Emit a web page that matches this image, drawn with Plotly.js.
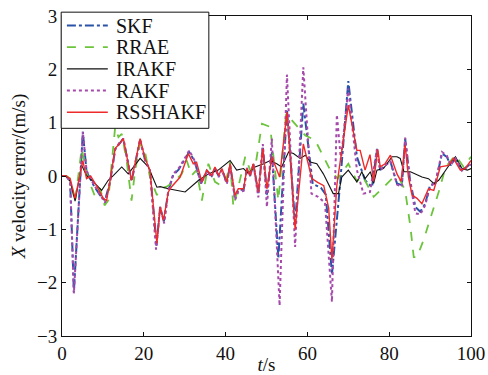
<!DOCTYPE html>
<html>
<head>
<meta charset="utf-8">
<script src="https://cdn.plot.ly/plotly-3.0.1.min.js"></script>
<style>html,body{margin:0;padding:0;background:#fff;}#chart{width:488px;height:375px;}</style>
</head>
<body>
<div id="chart"></div>
<script>
// SKF
const tSKF = [0,1,2,2.9,5.1,6,7.7,9.3,10.5,11.7,13,14,15,17,19.1,20.3,21.5,23.1,24,24.9,26,27.2,28.5,29.7,31.1,32.4,34,35.4,36.6,37.4,38.3,39.1,40.3,41.1,42.3,43.1,44.4,45.2,46,46.8,48,49.1,50.1,51.3,52.9,55,57,59,61.3,63.3,64.5,66,68,70,72.1,74.1,75.8,77,77.8,79,80.3,81.9,83.1,83.9,85.1,86.4,87.6,88.8,90,91.3,92.9,94.1,95,96.2,97.8,100];
const vSKF = [0,0,-0.1,-2.18,0.83,0.08,-0.17,-0.36,-0.46,-0.13,0.5,0.6,0.7,-0.1,0.68,0.3,0.1,-1.3,-0.58,-0.85,-0.28,0.02,0.12,0.27,0.45,0.28,-0.14,0.1,0,0.15,0,0.12,-0.13,0.2,-0.4,-0.26,-0.26,0.12,0,0.22,-0.32,0.55,-0.35,0.45,-1.55,1.25,-0.9,1.36,-0.15,-0.22,-0.35,-1.85,-0.14,1.78,0.36,-0.08,-0.21,0.51,0.11,0.2,0.27,-0.14,-0.17,0.7,-0.08,-0.58,-0.67,-0.52,-0.17,-0.14,0.42,0.36,0.2,0.33,0.11,0.23];
// RRAE
const tRRAE = [0,1,2,3.2,4.8,6.4,8.1,9.3,10.4,11.3,13,13.8,14.6,15.8,17,17.9,19.1,20.3,21.5,23.2,24,25.6,27.3,29.3,30.5,31.7,32.9,34.2,35.8,37.4,38.7,39.9,41.1,41.9,43.1,44.8,46,47.2,48.9,50.9,52.9,54.8,56.6,59.5,61.9,64.3,65.6,66.4,67.4,70,72.1,73.5,76.2,78.2,80.7,81.5,82.7,83.9,85.2,86,86.8,88.4,90.5,92.1,93.8,96.2,98.2,100];
const vRRAE = [0,0,-0.05,-0.49,0.51,-0.05,-0.39,-0.23,-0.55,-0.46,0.92,0.73,0.79,0.29,-0.46,0.11,0.61,0.45,-0.02,-0.36,-0.24,-0.2,-0.11,0.04,0.29,0.01,0.11,-0.46,0.23,-0.11,-0.17,-0.17,0.26,-0.58,-0.21,0.36,0.11,0.15,0.98,0.92,-0.46,1.17,1.01,0.76,0.67,0.29,0.11,0.04,-0.05,0.23,-0.1,0,-0.39,-0.24,-0.05,-0.02,-0.08,-0.27,-0.96,-1.52,-1.52,-1.2,-0.7,-0.3,0.17,0.39,0.17,0.36];
// IRAKF
const tIRAKF = [0,1,2,3.2,4.8,6,7.7,9.7,11.3,12.6,14.6,16.2,19.1,21.1,23.2,24,26,30.1,33.4,35.8,38.2,41.1,42.7,44.4,45.5,47.2,49.3,50.9,52.5,53.7,55.4,56.6,58.2,59.5,60.7,62.3,63.9,65.6,66.3,67.6,68.4,70,72.1,73.3,74.1,75.4,76.2,77,78.6,80.7,81.9,82.7,83.6,85.2,86.4,88,89.6,90.9,92.1,93.7,94.9,96.2,97.8,99.1,100];
const vIRAKF = [0,0,-0.1,-0.47,0.2,0.01,-0.11,-0.27,-0.08,0.01,0.17,0.04,0.33,0.17,-0.21,-0.2,-0.24,-0.3,-0.08,0.04,0.11,0.29,0.11,0.14,0.05,0.17,0.23,0.29,0.23,0.17,0.45,0.42,0.33,0.39,0.26,0.23,0.04,-0.24,-0.33,-0.33,-0.02,0.11,-0.11,0.08,-0.05,0.08,-0.14,0.11,0.14,0.36,0.36,0.33,0.08,0.08,0.04,-0.02,-0.05,-0.14,-0.08,0.11,0.23,0.36,0.14,0.11,0.14];
// RAKF
const tRAKF = [0,1,2,2.9,5.1,6,7.7,9.3,10.5,11.7,13,14,15,17,19.1,20.3,21.5,23,24,25,26,27.2,28.5,29.7,31.1,32.4,34,35.4,36.6,37.4,38.3,39.1,40.3,41.1,42.3,43.1,44.4,45.2,46,46.8,48,49.1,50.1,51.3,53.2,55,57,59,61,62.6,64.3,66,67.2,68.2,70,72.1,73.7,75.3,77,77.8,79,80.3,81.9,83.1,83.9,85.1,86.4,87.6,88.8,90,91.3,92.9,94.1,95,96.2,97.8,100];
const vRAKF = [0,0,-0.1,-2.2,0.83,0.1,-0.15,-0.36,-0.5,-0.13,0.5,0.62,0.7,-0.1,0.68,0.3,0.1,-1.38,-0.58,-0.89,-0.27,0.04,0.14,0.29,0.48,0.29,-0.14,0.08,-0.02,0.15,-0.02,0.12,-0.15,0.2,-0.45,-0.3,-0.28,0.15,0,0.22,-0.4,0.6,-0.58,0.7,-2.43,1.9,-1.33,2.04,-0.33,-0.39,-0.5,-2.36,1.15,0.3,1.64,0.11,-0.33,-0.3,0.5,0.11,0.2,0.27,-0.16,-0.2,0.72,-0.1,-0.7,-0.72,-0.55,-0.2,-0.12,0.45,0.38,0.2,0.33,0.1,0.22];
// RSSHAKF
const tRSS = [0,1,2,3.2,5.1,6,7,8.5,10.1,10.9,11.7,13,13.8,15,17,19.1,20.3,21.5,23.2,24,24.8,26,26.8,28.9,30.9,32.1,32.9,34.2,35.4,36.6,37.4,38.3,39.1,40.3,41.1,42.3,43.1,44.4,45.2,46,46.8,48,49.1,50.1,51.3,53.2,55,57,59,61.1,62.5,64,65.2,66,67.2,70,72.1,72.9,74.1,75.3,76.2,77.2,77.8,79,80.3,81.9,82.9,83.9,84.7,85.6,86.8,88,89.6,90.9,92.5,94.5,95.7,97.4,98.6,100];
const vRSS = [0,0,-0.05,-0.42,0.29,-0.05,0,-0.19,-0.42,-0.46,-0.11,0.52,0.58,0.7,-0.08,0.7,0.33,0.11,-1.26,-0.58,-0.83,-0.3,-0.2,-0.02,0.42,0.23,0.26,-0.11,0.11,0.01,0.17,0.01,0.14,-0.11,0.23,-0.36,-0.24,-0.24,0.14,0.01,0.23,-0.3,0.51,-0.24,0.36,-0.02,1.2,-1.0,0.6,-0.05,-0.12,-0.18,-0.6,-1.58,-0.17,1.33,0.48,0.48,0.11,0.4,-0.1,0.5,0.17,0.23,0.39,0.04,-0.1,0.58,-0.02,-0.36,-0.42,-0.52,-0.24,-0.27,0.17,0.2,0.33,0.11,0.14,0.29];

const seriesNames = ['SKF','RRAE','IRAKF','RAKF','RSSHAKF'];
const xTicks = [0,20,40,60,80,100];
const yTicks = [-3,-2,-1,0,1,2,3];
const yTickText = ['\u22123','\u22122','\u22121','0','1','2','3'];

const serif = 'Liberation Serif';
const styles = [
  {color:'#2a52a8', width:2, dash:'dashdot'},
  {color:'#6cc43c', width:1.8, dash:'dash'},
  {color:'#111111', width:1.1, dash:'solid'},
  {color:'#a54aab', width:2, dash:'dot'},
  {color:'#ee2a2a', width:1.4, dash:'solid'}
];
const xs = [tSKF,tRRAE,tIRAKF,tRAKF,tRSS];
const ys = [vSKF,vRRAE,vIRAKF,vRAKF,vRSS];
const traces = seriesNames.map((n,i) => ({type:'scatter', mode:'lines', x:xs[i], y:ys[i], name:n, line:styles[i]}));

// custom compact legend (paper coordinates)
const shapes = [{type:'rect', xref:'paper', yref:'paper', x0:-0.002, x1:0.359, y0:0.649, y1:1.012,
                 fillcolor:'#fff', line:{color:'#111', width:1}, layer:'above'}];
const annotations = [];
seriesNames.forEach((n,i) => {
  const yc = 0.9703 - i*0.0678;
  shapes.push({type:'line', xref:'paper', yref:'paper', x0:0.012, x1:0.112, y0:yc, y1:yc,
               line:{color:styles[i].color, width:styles[i].width, dash:styles[i].dash}, layer:'above'});
  annotations.push({xref:'paper', yref:'paper', x:0.128, y:yc, xanchor:'left', yanchor:'middle',
               text:n, showarrow:false, font:{family:serif, size:20, color:'#111'}});
});

const layout = {
  width:488, height:375,
  margin:{l:62, r:17, t:16, b:39},
  paper_bgcolor:'#fff', plot_bgcolor:'#fff',
  font:{family:serif, size:19, color:'#111'},
  showlegend:false,
  shapes:shapes, annotations:annotations,
  xaxis:{range:[0,100], tickvals:xTicks, ticks:'inside', ticklen:4, tickcolor:'#111',
         showline:true, linecolor:'#111', linewidth:1, mirror:'ticks', showgrid:false, zeroline:false,
         tickfont:{family:serif, size:19, color:'#111'},
         title:{text:'<i>t</i>/s', font:{family:serif, size:19, color:'#111'}, standoff:0}},
  yaxis:{range:[-3,3], tickvals:yTicks, ticktext:yTickText, ticks:'inside', ticklen:4, tickcolor:'#111',
         showline:true, linecolor:'#111', linewidth:1, mirror:'ticks', showgrid:false, zeroline:false,
         tickfont:{family:serif, size:19, color:'#111'},
         title:{text:'<i>X</i> velocity error/(m/s)', font:{family:serif, size:19, color:'#111'}, standoff:6}}
};
Plotly.newPlot('chart', traces, layout, {displayModeBar:false, staticPlot:true});
</script>
</body>
</html>
